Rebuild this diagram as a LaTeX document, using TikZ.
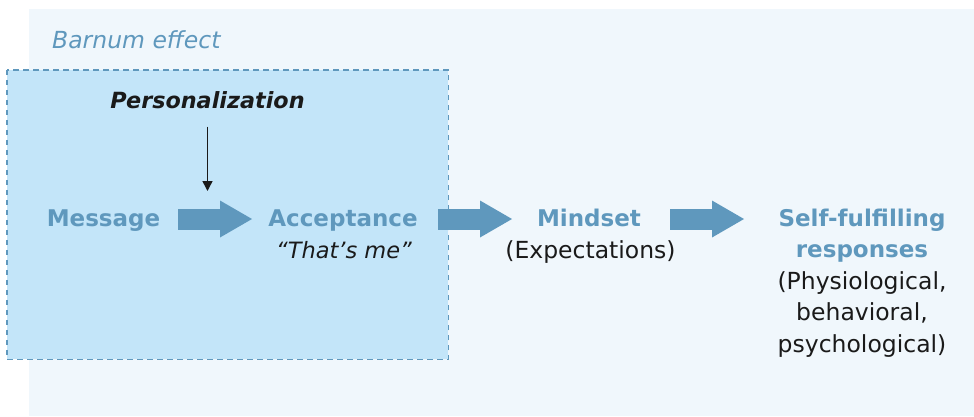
\documentclass[tikz,border=0pt]{standalone}
\usepackage{fontspec}
\setmainfont{DejaVu Sans}
\usetikzlibrary{arrows.meta}
\definecolor{accent}{HTML}{5F98BD}
\definecolor{outerbg}{HTML}{F0F7FC}
\definecolor{innerbg}{HTML}{C3E5F9}
\definecolor{ink}{HTML}{1A1A1A}
\begin{document}
\begin{tikzpicture}[x=1pt,y=-1pt,
  lbl/.style={anchor=base, inner sep=0pt, align=center},
  bluelbl/.style={lbl, text=accent, font=\fontsize{23}{31.5}\selectfont\bfseries},
  blacklbl/.style={lbl, text=ink, font=\fontsize{23.5}{31.5}\selectfont},
  bigarrow/.style={draw=accent, line width=21pt,
    -{Triangle[length=32pt,width=37pt,line width=0pt]}},
  groupbox/.style={draw=accent, line width=1.5pt, dash pattern=on 5.5pt off 4.5pt, fill=innerbg}]
\useasboundingbox (0,0) rectangle (974,416);
\fill[white] (0,0) rectangle (974,416);
\fill[outerbg] (29,9) rectangle (974,416);
\draw[groupbox] (6.75,69.75) rectangle (448.25,359.25);

\node[lbl, anchor=base west, text=accent, font=\fontsize{23.5}{28}\selectfont\itshape] (barnum) at (52,48) {Barnum effect};
\node[lbl, text=ink, font=\fontsize{22.3}{28}\selectfont\bfseries\itshape] (pers) at (207.5,108) {Personalization};

\node[bluelbl] (msg) at (103.5,226) {Message};
\node[bluelbl] (acc) at (343,226) {Acceptance};
\node[lbl, text=ink, font=\fontsize{22.5}{31.5}\selectfont\itshape] (quote) at (344,258) {“That’s me”};
\node[bluelbl] (mind) at (589,226) {Mindset};
\node[blacklbl] (expect) at (590.5,258) {(Expectations)};
% base anchor of a multi-line node is the baseline of its last line
\node[bluelbl] (sfr) at (862,257.5) {Self-fulfilling\\responses};
\node[blacklbl] (sfrsub) at (862,352) {(Physiological,\\behavioral,\\psychological)};

\coordinate (a1s) at (178,219);
\coordinate (a1e) at (252,219);
\coordinate (a2s) at (438,219);
\coordinate (a2e) at (512,219);
\coordinate (a3s) at (670,219);
\coordinate (a3e) at (744,219);
\coordinate (ptip) at (207.5,191);

\draw[bigarrow] (a1s) -- (a1e);
\draw[bigarrow] (a2s) -- (a2e);
\draw[bigarrow] (a3s) -- (a3e);

\draw[ink, line width=1.5pt, -{Triangle[length=10pt,width=10pt]}, shorten <=18pt] (pers.south) -- (ptip);
\end{tikzpicture}
\end{document}
